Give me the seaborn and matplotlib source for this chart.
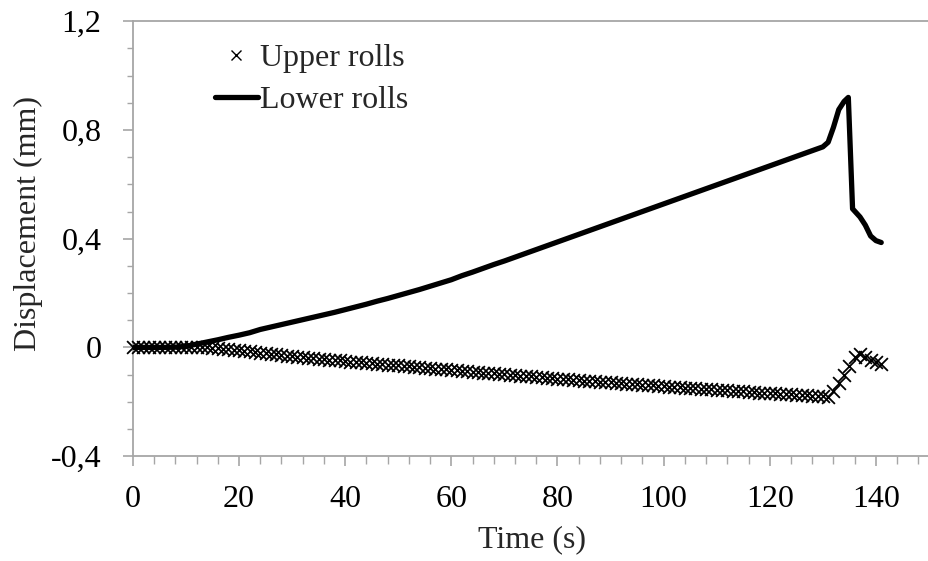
import matplotlib
matplotlib.use("Agg")
import matplotlib.pyplot as plt
import seaborn as sns
from matplotlib.ticker import MultipleLocator, FuncFormatter
from matplotlib.lines import Line2D

# ---- data ----
upper_time = list(range(0, 142))
upper_disp = [
    0.000, 0.000, 0.000, 0.000, 0.000, 0.000, 0.000, 0.000, 0.000, 0.000,   # 0-9
    0.000, 0.000, 0.000, 0.000, 0.000, -0.001, -0.003, -0.005, -0.007, -0.009,  # 10-19
    -0.011, -0.013, -0.015, -0.018, -0.020, -0.022, -0.024, -0.026, -0.028, -0.030,  # 20-29
    -0.032, -0.034, -0.036, -0.038, -0.040, -0.042, -0.044, -0.045, -0.047, -0.048,  # 30-39
    -0.050, -0.052, -0.053, -0.055, -0.056, -0.058, -0.060, -0.061, -0.063, -0.064,  # 40-49
    -0.066, -0.068, -0.069, -0.071, -0.072, -0.074, -0.076, -0.078, -0.079, -0.081,  # 50-59
    -0.083, -0.084, -0.086, -0.088, -0.089, -0.091, -0.093, -0.094, -0.096, -0.097,  # 60-69
    -0.099, -0.101, -0.102, -0.104, -0.105, -0.107, -0.109, -0.110, -0.112, -0.113,  # 70-79
    -0.115, -0.116, -0.118, -0.119, -0.121, -0.122, -0.124, -0.125, -0.126, -0.128,  # 80-89
    -0.129, -0.130, -0.132, -0.133, -0.135, -0.136, -0.137, -0.139, -0.140, -0.141,  # 90-99
    -0.143, -0.144, -0.145, -0.146, -0.148, -0.149, -0.150, -0.152, -0.153, -0.154,  # 100-109
    -0.156, -0.157, -0.158, -0.159, -0.161, -0.162, -0.163, -0.164, -0.166, -0.167,  # 110-119
    -0.168, -0.169, -0.171, -0.172, -0.173, -0.174, -0.175, -0.177, -0.178, -0.179,  # 120-129
    -0.180, -0.182, -0.160, -0.130, -0.100, -0.068, -0.035, -0.025, -0.035, -0.045,  # 130-139
    -0.055, -0.062,  # 140-141
]

lower_time = list(range(0, 131, 2)) + [131, 132, 133, 134, 134.8, 135.6, 137, 138, 139, 140, 141]
lower_disp = [
    0.000, 0.000, 0.000, 0.000, 0.001, 0.004, 0.012, 0.020, 0.028, 0.037,  # 0-18
    0.045, 0.054, 0.066, 0.075, 0.084, 0.093, 0.102, 0.111, 0.120, 0.129,  # 20-38
    0.139, 0.149, 0.159, 0.170, 0.180, 0.191, 0.202, 0.213, 0.225, 0.237,  # 40-58
    0.249, 0.264, 0.277, 0.291, 0.305, 0.318, 0.332, 0.346, 0.360, 0.374,  # 60-78
    0.388, 0.402, 0.416, 0.430, 0.444, 0.458, 0.472, 0.486, 0.500, 0.514,  # 80-98
    0.528, 0.542, 0.556, 0.570, 0.584, 0.598, 0.612, 0.626, 0.640, 0.654,  # 100-118
    0.668, 0.682, 0.696, 0.710, 0.724, 0.738,                              # 120-130
    0.755, 0.810, 0.875, 0.905, 0.920, 0.510, 0.480, 0.450, 0.410, 0.393, 0.386,
]

series_labels = ["Upper rolls", "Lower rolls"]
x_label = "Time (s)"
y_label = "Displacement (mm)"

# ---- style ----
sns.set_style("white")
plt.rcParams["font.family"] = ["Liberation Serif", "DejaVu Serif"]
FS = 23
GREY = "#a6a6a6"

fig = plt.figure(figsize=(9.29, 5.61), dpi=100)
ax = fig.add_axes([0.143, 0.187, 0.857, 0.775])

sns.scatterplot(x=upper_time, y=upper_disp, ax=ax, marker="x", color="black",
                s=85, linewidth=1.3, legend=False, zorder=3, clip_on=False)
sns.lineplot(x=lower_time, y=lower_disp, ax=ax, color="black", linewidth=3.8,
             legend=False, sort=False, estimator=None, zorder=4)

ax.set_xlim(0, 150)
ax.set_ylim(-0.4, 1.2)
ax.xaxis.set_major_locator(MultipleLocator(20))
ax.xaxis.set_minor_locator(MultipleLocator(4))
ax.yaxis.set_major_locator(MultipleLocator(0.4))
ax.yaxis.set_minor_locator(MultipleLocator(0.1))


def comma_fmt(v, pos):
    if abs(v) < 1e-9:
        return "0"
    return f"{v:.1f}".replace(".", ",")


ax.yaxis.set_major_formatter(FuncFormatter(comma_fmt))
ax.xaxis.set_major_formatter(FuncFormatter(lambda v, p: f"{v:.0f}"))

for side in ["left", "bottom", "top"]:
    ax.spines[side].set_visible(True)
    ax.spines[side].set_color(GREY)
    ax.spines[side].set_linewidth(1.3)
ax.spines["right"].set_visible(False)

ax.tick_params(axis="both", which="both", bottom=True, left=True, top=False, right=False,
               direction="out", color=GREY)
ax.tick_params(axis="both", which="major", length=7.5, width=1.2,
               labelsize=FS, labelcolor="black")
ax.tick_params(axis="y", which="major", pad=15)
ax.tick_params(axis="x", which="major", pad=13)
ax.tick_params(axis="y", which="minor", length=4, width=1.0)
ax.tick_params(axis="x", which="minor", length=5.5, width=1.0)

ax.set_xlabel(x_label, fontsize=FS)
ax.set_ylabel(y_label, fontsize=FS)
ax.xaxis.set_label_coords(0.501, -0.158)
ax.yaxis.set_label_coords(-0.113, 0.534)

handles = [
    Line2D([], [], marker="x", linestyle="none", color="black", markersize=7,
           markeredgewidth=1.0),
    Line2D([], [], color="black", linewidth=3.8),
]
leg = ax.legend(handles, series_labels, loc="upper left", frameon=False, fontsize=FS,
                bbox_to_anchor=(0.087, 0.977), handlelength=1.35, handletextpad=0.05,
                labelspacing=0.38, borderaxespad=0)

fig.savefig("out.png", dpi=100)
